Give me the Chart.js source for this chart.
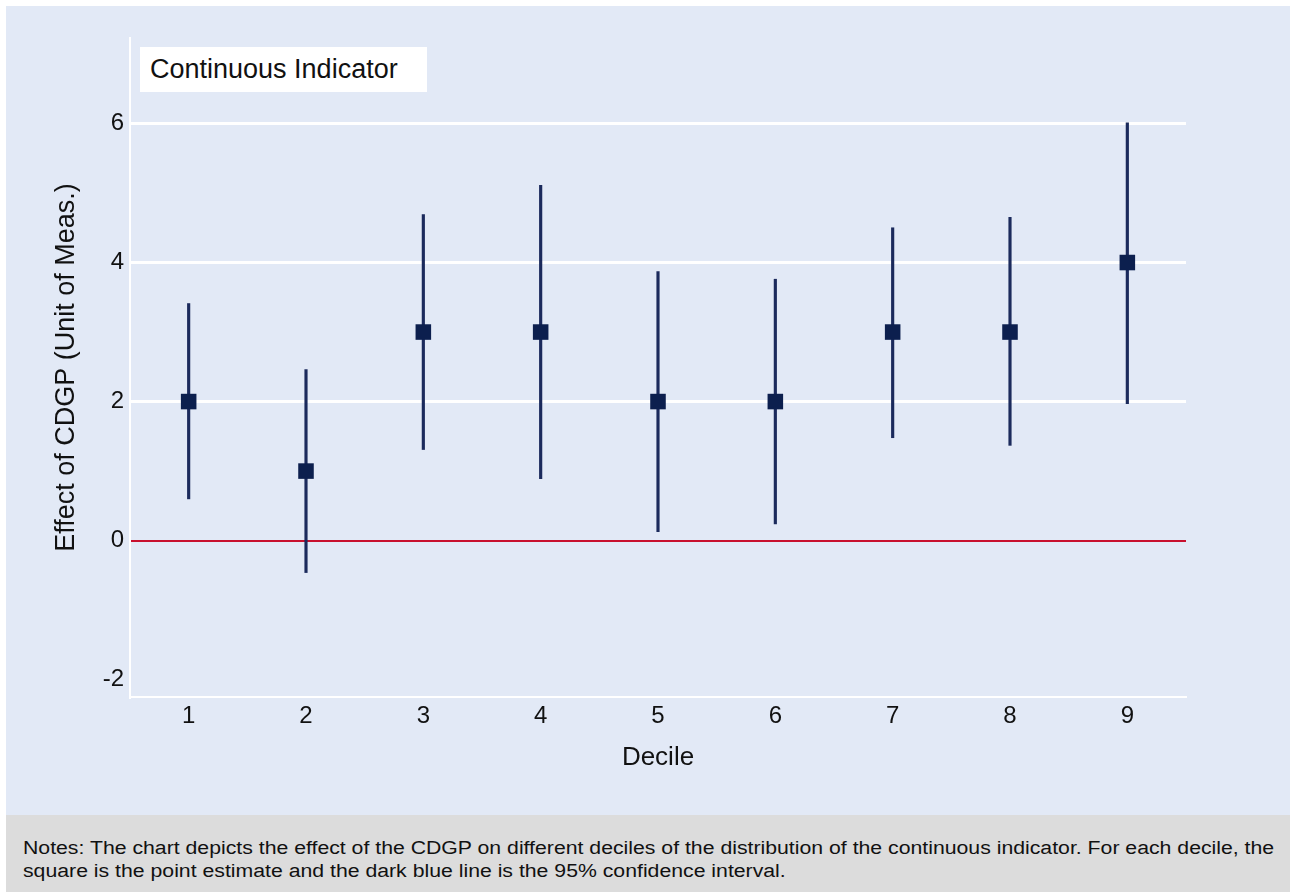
<!DOCTYPE html>
<html>
<head>
<meta charset="utf-8">
<script src="https://cdn.jsdelivr.net/npm/chart.js@4.4.0/dist/chart.umd.min.js"></script>
<style>
body{margin:0;background:#fff;width:1293px;height:892px;position:relative;overflow:hidden;font-family:"Liberation Sans",Arial,Helvetica,sans-serif;}
#wrap{position:absolute;left:6px;top:6px;width:1284px;height:809px;background:#e2e9f6;}
#box{position:absolute;left:134px;top:41px;width:287px;height:45px;background:#fff;font-size:27px;line-height:45px;padding-left:10px;box-sizing:border-box;color:#111;}
#notes{position:absolute;left:6px;top:815px;width:1284px;height:77px;background:#dcdcdc;}
#notes div{position:absolute;left:17px;top:22px;font-size:18px;line-height:23px;color:#111;white-space:nowrap;transform-origin:0 0;transform:scaleX(1.18);}
</style>
</head>
<body>
<div id="wrap">
  <canvas id="chart" width="1284" height="809"></canvas>
  <div id="box">Continuous Indicator</div>
</div>
<div id="notes"><div>Notes: The chart depicts the effect of the CDGP on different deciles of the distribution of the continuous indicator. For each decile, the<br>square is the point estimate and the dark blue line is the 95% confidence interval.</div></div>
<script>
// DADOS
const deciles  = [1,2,3,4,5,6,7,8,9];
const estimate = [2,1,3,3,2,2,3,3,4];
const ciLow    = [0.60,-0.46,1.31,0.89,0.13,0.24,1.48,1.37,1.97];
const ciHigh   = [3.41,2.46,4.69,5.11,3.87,3.76,4.50,4.65,6.01];
const xTicks   = [1,2,3,4,5,6,7,8,9];
const yTicks   = [-2,0,2,4,6];

const navy = "#0c1f4e";
const font = '"Liberation Sans", Arial, Helvetica, sans-serif';

const ctx = document.getElementById("chart").getContext("2d");
new Chart(ctx,{
    type:'scatter',
    data:{
        datasets:[{
            type:'scatter',
            data: deciles.map((d,i)=>({x:d,y:estimate[i]})),
            pointStyle:'rect',
            pointRadius:11,
            pointHoverRadius:11,
            backgroundColor:navy,
            borderColor:navy,
            borderWidth:0,
            order:0
        },{
            type:'bar',
            data: deciles.map((d,i)=>({x:d,y:[ciLow[i],ciHigh[i]]})),
            backgroundColor:"#1b2a5c",
            borderWidth:0,
            barThickness:2.5,
            grouped:false,
            order:1
        }]
    },
    options:{
        responsive:false,
        animation:false,
        events:[],
        layout:{padding:{left:0,top:32,right:104,bottom:0}},
        plugins:{legend:{display:false},tooltip:{enabled:false}},
        scales:{
            x:{
                type:'linear',
                min:0.5,max:9.5,offset:false,
                afterBuildTicks: s=>{ s.ticks = xTicks.map(v=>({value:v})); },
                afterFit: s=>{ s.height = 118; },
                grid:{display:false},
                border:{display:true,color:"#ffffff",width:2},
                ticks:{color:"#111",font:{family:font,size:24},padding:-3,maxRotation:0},
                title:{display:true,text:"Decile",color:"#111",font:{family:font,size:26},padding:{top:0,bottom:42}}
            },
            y:{
                type:'linear',
                min:-2.25,max:7.23,
                afterBuildTicks: s=>{ s.ticks = yTicks.map(v=>({value:v})); },
                afterFit: s=>{ s.width = 124; },
                grid:{
                    drawTicks:false,
                    color: c=> c.tick.value===0 ? "#c8102e" : (c.tick.value===-2 ? "rgba(0,0,0,0)" : "#ffffff"),
                    lineWidth: c=> c.tick.value===0 ? 2 : 3
                },
                border:{display:true,color:"#ffffff",width:2},
                ticks:{color:"#111",font:{family:font,size:24},padding:6},
                title:{display:true,text:"Effect of CDGP (Unit of Meas.)",color:"#111",font:{family:font,size:27},padding:{top:44,bottom:0}}
            }
        }
    }
});
</script>
</body>
</html>
